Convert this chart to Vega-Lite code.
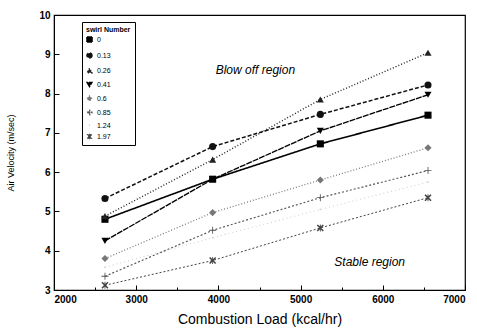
{
  "$schema": "https://vega.github.io/schema/vega-lite/v6.json",
  "width": 411,
  "height": 275,
  "autosize": {"type": "none"},
  "padding": {"left": 54, "top": 15, "right": 12, "bottom": 42},
  "background": "white",
  "config": {
    "font": "Liberation Sans",
    "view": {"stroke": "black", "strokeWidth": 1.2},
    "axis": {"grid": false, "domainColor": "black", "tickColor": "black", "labelColor": "black", "titleColor": "black", "labelFont": "Liberation Sans", "titleFont": "Liberation Sans", "titleFontWeight": "normal"},
    "legend": {"orient": "none", "legendX": 28, "legendY": 7, "strokeColor": "black", "fillColor": "white", "padding": 4, "titleFontSize": 7, "titleFontWeight": "bold", "titleColor": "black", "labelFontSize": 7, "labelColor": "black", "symbolSize": 25, "rowPadding": 3, "titlePadding": 3, "labelFont": "Liberation Sans", "titleFont": "Liberation Sans"}
  },
  "datasets": {
    "series": [
      {"load": 2620, "vel": 4.8, "swirl": "0"},
      {"load": 3930, "vel": 5.82, "swirl": "0"},
      {"load": 5240, "vel": 6.72, "swirl": "0"},
      {"load": 6550, "vel": 7.45, "swirl": "0"},
      {"load": 2620, "vel": 5.33, "swirl": "0.13"},
      {"load": 3930, "vel": 6.65, "swirl": "0.13"},
      {"load": 5240, "vel": 7.47, "swirl": "0.13"},
      {"load": 6550, "vel": 8.22, "swirl": "0.13"},
      {"load": 2620, "vel": 4.88, "swirl": "0.26"},
      {"load": 3930, "vel": 6.32, "swirl": "0.26"},
      {"load": 5240, "vel": 7.85, "swirl": "0.26"},
      {"load": 6550, "vel": 9.04, "swirl": "0.26"},
      {"load": 2620, "vel": 4.25, "swirl": "0.41"},
      {"load": 3930, "vel": 5.82, "swirl": "0.41"},
      {"load": 5240, "vel": 7.05, "swirl": "0.41"},
      {"load": 6550, "vel": 7.97, "swirl": "0.41"},
      {"load": 2620, "vel": 3.8, "swirl": "0.6"},
      {"load": 3930, "vel": 4.97, "swirl": "0.6"},
      {"load": 5240, "vel": 5.8, "swirl": "0.6"},
      {"load": 6550, "vel": 6.62, "swirl": "0.6"},
      {"load": 2620, "vel": 3.35, "swirl": "0.85"},
      {"load": 3930, "vel": 4.52, "swirl": "0.85"},
      {"load": 5240, "vel": 5.35, "swirl": "0.85"},
      {"load": 6550, "vel": 6.04, "swirl": "0.85"},
      {"load": 2620, "vel": 3.58, "swirl": "1.24"},
      {"load": 3930, "vel": 4.33, "swirl": "1.24"},
      {"load": 5240, "vel": 5.05, "swirl": "1.24"},
      {"load": 6550, "vel": 5.75, "swirl": "1.24"},
      {"load": 2620, "vel": 3.12, "swirl": "1.97"},
      {"load": 3930, "vel": 3.75, "swirl": "1.97"},
      {"load": 5240, "vel": 4.58, "swirl": "1.97"},
      {"load": 6550, "vel": 5.35, "swirl": "1.97"}
    ],
    "notes": [
      {"load": 4450, "vel": 8.6, "label": "Blow off region"},
      {"load": 5840, "vel": 3.72, "label": "Stable region"}
    ]
  },
  "encoding": {
    "x": {
      "field": "load", "type": "quantitative",
      "scale": {"domain": [2000, 7000], "nice": false, "zero": false},
      "axis": {
        "values": [2000, 2500, 3000, 3500, 4000, 4500, 5000, 5500, 6000, 6500, 7000],
        "labelExpr": "datum.value % 1000 == 0 ? datum.value : ''",
        "tickSize": {"condition": {"test": "datum.value % 1000 == 0", "value": -5}, "value": -3},
        "labelPadding": 9,
        "labelFontSize": 10,
        "labelFontWeight": "bold",
        "title": "Combustion  Load (kcal/hr)",
        "titleFontSize": 14,
        "titleY": 22
      }
    },
    "y": {
      "field": "vel", "type": "quantitative",
      "scale": {"domain": [3, 10], "nice": false, "zero": false},
      "axis": {
        "values": [3, 4, 5, 6, 7, 8, 9, 10],
        "tickSize": -5,
        "labelPadding": 9,
        "labelFontSize": 10,
        "labelFontWeight": "bold",
        "title": "Air Velocity (m/sec)",
        "titleFontSize": 9,
        "titleX": -39
      }
    }
  },
  "layer": [
    {
      "data": {"name": "series"},
      "mark": {"type": "line"},
      "encoding": {
        "color": {
          "field": "swirl", "type": "nominal",
          "scale": {"domain": ["0", "0.13", "0.26", "0.41", "0.6", "0.85", "1.24", "1.97"],
                    "range": ["#000000", "#111111", "#222222", "#000000", "#777777", "#555555", "#d0d0d0", "#444444"]},
          "legend": {"title": "swirl Number"}
        },
        "strokeDash": {
          "field": "swirl", "type": "nominal",
          "scale": {"domain": ["0", "0.13", "0.26", "0.41", "0.6", "0.85", "1.24", "1.97"],
                    "range": [[1, 0], [4, 2], [1, 2], [6, 1], [1, 2], [2, 2], [1, 3], [2, 2]]},
          "legend": null
        },
        "strokeWidth": {
          "field": "swirl", "type": "nominal",
          "scale": {"domain": ["0", "0.13", "0.26", "0.41", "0.6", "0.85", "1.24", "1.97"],
                    "range": [1.6, 1, 1, 1.4, 1, 1, 1, 1]},
          "legend": null
        }
      }
    },
    {
      "data": {"name": "series"},
      "mark": {"type": "point", "filled": true, "opacity": 1, "size": 50},
      "encoding": {
        "color": {"field": "swirl", "type": "nominal", "legend": {"title": "swirl Number"}},
        "shape": {
          "field": "swirl", "type": "nominal",
          "scale": {"domain": ["0", "0.13", "0.26", "0.41", "0.6", "0.85", "1.24", "1.97"],
                    "range": ["square", "circle", "triangle-up", "triangle-down", "diamond",
                              "M-1,-0.12L1,-0.12L1,0.12L-1,0.12ZM-0.12,-1L0.12,-1L0.12,1L-0.12,1Z",
                              "M-0.2,-0.2L0.2,-0.2L0.2,0.2L-0.2,0.2Z",
                              "M-1,-0.7L-0.7,-1L0,-0.3L0.7,-1L1,-0.7L0.3,0L1,0.7L0.7,1L0,0.3L-0.7,1L-1,0.7L-0.3,0ZM-0.12,-1L0.12,-1L0.12,1L-0.12,1Z"]},
          "legend": {"title": "swirl Number"}
        }
      }
    },
    {
      "data": {"name": "notes"},
      "mark": {"type": "text", "font": "Liberation Sans", "fontStyle": "italic", "fontSize": 12, "align": "center", "baseline": "middle", "color": "black"},
      "encoding": {"text": {"field": "label"}}
    }
  ]
}
